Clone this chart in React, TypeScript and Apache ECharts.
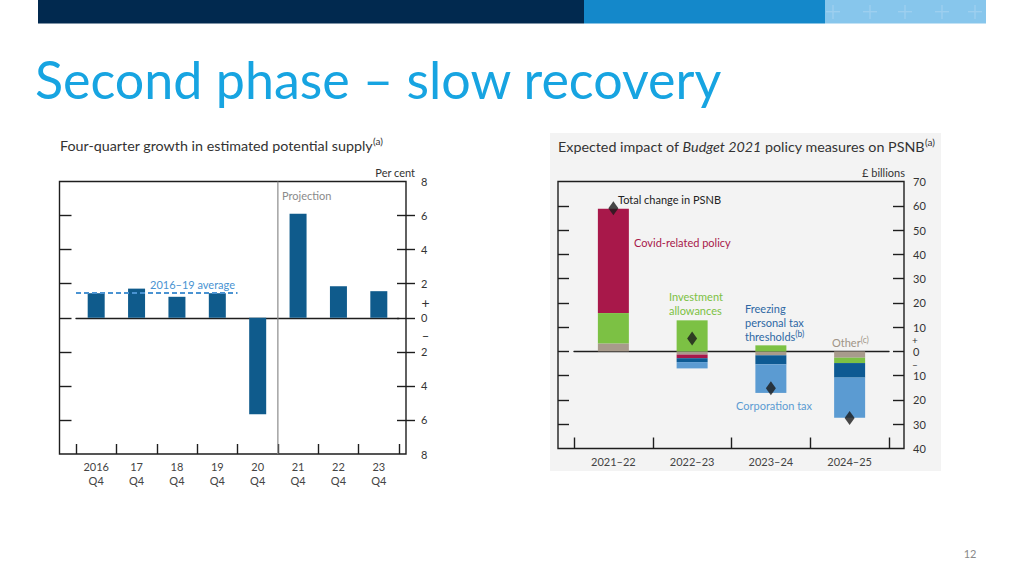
import React, { useEffect, useRef } from 'react';
import * as echarts from 'echarts';

// ---------- Left chart data ----------
const supplyCategories = ['2016\nQ4', '17\nQ4', '18\nQ4', '19\nQ4', '20\nQ4', '21\nQ4', '22\nQ4', '23\nQ4'];
const supplyGrowth = [1.44, 1.71, 1.23, 1.44, -5.66, 6.11, 1.85, 1.56];
const supplyAverage = 1.45; // 2016–19 average
const averageSpan = [0, 4]; // category boundaries covered by the average line
const projectionStart = 5; // boundary index where projection begins
const supplyMin = -8;
const supplyMax = 8;
const supplyInterval = 2;
const supplyTickValues = [-6, -4, -2, 0, 2, 4, 6];

// ---------- Right chart data ----------
const psnbCategories = ['2021–22', '2022–23', '2023–24', '2024–25'];
const otherValues = [3.3, -1.3, -1.6, -2.6];
const investmentValues = [12.5, 12.8, 2.5, -2.2];
const covidValues = [43.0, -1.5, 0, 0];
const freezingValues = [0, -1.6, -3.7, -6.0];
const corporationValues = [0, -2.6, -11.8, -16.5];
const totalValues = [59, 5.3, -15.2, -27.4];
const psnbMin = -40;
const psnbMax = 70;
const psnbInterval = 10;
const psnbTickValues = [-30, -20, -10, 0, 10, 20, 30, 40, 50, 60];

const FONT = 'Lato, "Open Sans", sans-serif';
const AXIS_TEXT = '#333333';
const FRAME = '#1e1e1e';

const C_BAR = '#0f5b8c';
const C_AVG = '#4a93d2';
const C_OTHER = '#a89b8c';
const C_INVEST = '#7cc144';
const C_COVID = '#a8184a';
const C_FREEZE = '#0d5a93';
const C_CORP = '#5b9bd2';

export default function App() {
  const ref = useRef<HTMLDivElement>(null);

  useEffect(() => {
    const chart = echarts.init(ref.current as HTMLDivElement, null, { renderer: 'svg', width: 1024, height: 576 });

    const absLabel = (v: number) => String(Math.abs(v));

    const txt = (x: number, y: number, text: string, opts: any = {}) => ({
      type: 'text',
      x,
      y,
      silent: true,
      style: {
        text,
        fontFamily: FONT,
        fontSize: 11,
        fill: '#333',
        textAlign: 'left',
        textVerticalAlign: 'middle',
        ...opts,
      },
    });

    const crosses: any[] = [];
    [833, 870, 905, 942, 975].forEach((cx) => {
      crosses.push({ type: 'rect', shape: { x: cx - 7, y: 11, width: 14, height: 1.4 }, style: { fill: '#9dcfef' }, silent: true });
      crosses.push({ type: 'rect', shape: { x: cx - 0.7, y: 5, width: 1.4, height: 14 }, style: { fill: '#9dcfef' }, silent: true });
    });

    const stackBar = (name: string, data: number[], color: string) => ({
      type: 'bar',
      name,
      stack: 'psnb',
      xAxisIndex: 4,
      yAxisIndex: 5,
      barWidth: 31,
      data,
      itemStyle: { color },
      emphasis: { disabled: true },
    });

    const tickStyle = { color: FRAME, width: 1.4 };

    const option: any = {
      animation: false,
      textStyle: { fontFamily: FONT },
      graphic: [
        // banner
        { type: 'rect', shape: { x: 38, y: 0, width: 546, height: 23.5 }, style: { fill: '#01294f' }, silent: true },
        { type: 'rect', shape: { x: 584, y: 0, width: 241, height: 23.5 }, style: { fill: '#1488ca' }, silent: true },
        { type: 'rect', shape: { x: 825, y: 0, width: 161, height: 23.5 }, style: { fill: '#87c6ec' }, silent: true },
        ...crosses,
        // main title
        {
          type: 'text', x: 35, y: 79, silent: true,
          style: { text: 'Second phase – slow recovery', fontFamily: 'Lato, sans-serif', fontSize: 52, fill: '#17a4e1', textVerticalAlign: 'middle' },
        },
        // right panel background
        { type: 'rect', z: -10, shape: { x: 550, y: 133, width: 391, height: 338 }, style: { fill: '#f3f3f3' }, silent: true },
        // left chart title
        {
          type: 'text', x: 60, y: 145, silent: true,
          style: {
            text: 'Four-quarter growth in estimated potential supply{sup|(a)}',
            fontFamily: FONT, fontSize: 14.3, fill: '#333', textVerticalAlign: 'middle', lineHeight: 18,
            rich: { sup: { fontSize: 10, verticalAlign: 'top', lineHeight: 11, fill: '#333', fontFamily: FONT } },
          },
        },
        txt(415, 172, 'Per cent', { textAlign: 'right' }),
        txt(425.5, 302, '+', { textAlign: 'center', fontSize: 14, lineHeight: 11 }),
        txt(425.5, 336, '–', { textAlign: 'center', fontSize: 13, lineHeight: 11 }),
        txt(282, 195, 'Projection', { fill: '#8a8a8a' }),
        txt(150, 284, '2016–19 average', { fill: C_AVG }),
        // right chart title
        {
          type: 'text', x: 558, y: 146, silent: true,
          style: {
            text: 'Expected impact of {it|Budget 2021} policy measures on PSNB{sup|(a)}',
            fontFamily: FONT, fontSize: 14.3, fill: '#333', textVerticalAlign: 'middle', lineHeight: 18,
            rich: {
              it: { fontStyle: 'italic', fontSize: 14.3, fill: '#333', fontFamily: FONT },
              sup: { fontSize: 10, verticalAlign: 'top', lineHeight: 11, fill: '#333', fontFamily: FONT },
            },
          },
        },
        txt(905, 172, '£ billions', { textAlign: 'right' }),
        txt(915, 340, '+', { textAlign: 'center', fontSize: 10, lineHeight: 9 }),
        txt(915, 364, '–', { textAlign: 'center', fontSize: 10, lineHeight: 9 }),
        txt(618, 199, 'Total change in PSNB', { fill: '#222' }),
        txt(634, 242, 'Covid-related policy', { fill: C_COVID }),
        txt(669, 296, 'Investment', { fill: C_INVEST }),
        txt(669, 310, 'allowances', { fill: C_INVEST }),
        txt(745, 308, 'Freezing', { fill: '#2e68a4' }),
        txt(745, 322, 'personal tax', { fill: '#2e68a4' }),
        {
          type: 'text', x: 745, y: 336, silent: true,
          style: {
            text: 'thresholds{sup|(b)}', fontFamily: FONT, fontSize: 11, fill: '#2e68a4', textVerticalAlign: 'middle', lineHeight: 14,
            rich: { sup: { fontSize: 8.5, verticalAlign: 'top', lineHeight: 9, fill: '#2e68a4', fontFamily: FONT } },
          },
        },
        {
          type: 'text', x: 832, y: 342, silent: true,
          style: {
            text: 'Other{sup|(c)}', fontFamily: FONT, fontSize: 11, fill: '#a09486', textVerticalAlign: 'middle', lineHeight: 14,
            rich: { sup: { fontSize: 8.5, verticalAlign: 'top', lineHeight: 9, fill: '#a09486', fontFamily: FONT } },
          },
        },
        txt(736, 405, 'Corporation tax', { fill: C_CORP }),
        // page number
        txt(970, 553, '12', { textAlign: 'center', fill: '#8a8a8a', fontSize: 11 }),
      ],
      grid: [
        { left: 59.5, top: 181.5, width: 346.5, height: 272.5, show: true, borderColor: FRAME, borderWidth: 1.4, backgroundColor: 'transparent' },
        { left: 76, top: 181.5, width: 323, height: 272.5 },
        { left: 558, top: 181.5, width: 346, height: 267, show: true, borderColor: FRAME, borderWidth: 1.4, backgroundColor: 'transparent' },
        { left: 574, top: 181.5, width: 315, height: 267 },
      ],
      xAxis: [
        // 0: left frame (hidden)
        { gridIndex: 0, type: 'value', min: 0, max: 1, show: false },
        // 1: left bars, zero line
        {
          gridIndex: 1, type: 'category', data: supplyCategories,
          axisLine: { show: true, onZero: true, lineStyle: tickStyle },
          axisTick: { show: false }, axisLabel: { show: false }, splitLine: { show: false },
        },
        // 2: left bottom ticks & labels
        {
          gridIndex: 1, type: 'category', data: supplyCategories, position: 'bottom',
          axisLine: { show: false, onZero: false },
          axisTick: { show: true, inside: true, length: 10, lineStyle: tickStyle },
          axisLabel: { show: true, color: '#444', fontSize: 11, lineHeight: 14, margin: 5, fontFamily: FONT },
          splitLine: { show: false },
        },
        // 3: left hidden value axis for reference lines
        { gridIndex: 1, type: 'value', min: 0, max: supplyCategories.length, show: false },
        // 4: right bars, zero line
        {
          gridIndex: 3, type: 'category', data: psnbCategories,
          axisLine: { show: true, onZero: true, lineStyle: tickStyle },
          axisTick: { show: false }, axisLabel: { show: false }, splitLine: { show: false },
        },
        // 5: right bottom ticks & labels
        {
          gridIndex: 3, type: 'category', data: psnbCategories, position: 'bottom',
          axisLine: { show: false, onZero: false },
          axisTick: { show: true, inside: true, length: 11, lineStyle: tickStyle },
          axisLabel: { show: true, color: '#444', fontSize: 11, margin: 7, fontFamily: FONT },
          splitLine: { show: false },
        },
        // 6: right frame (hidden)
        { gridIndex: 2, type: 'value', min: 0, max: 1, show: false },
      ],
      yAxis: [
        // 0: left frame, left ticks
        {
          gridIndex: 0, type: 'value', position: 'left', min: supplyMin, max: supplyMax, interval: supplyInterval,
          axisLine: { show: false }, splitLine: { show: false }, axisLabel: { show: false },
          axisTick: { show: true, inside: true, length: 12, customValues: supplyTickValues, lineStyle: tickStyle },
        },
        // 1: left frame, right outer ticks + labels
        {
          gridIndex: 0, type: 'value', position: 'right', min: supplyMin, max: supplyMax, interval: supplyInterval,
          axisLine: { show: false }, splitLine: { show: false },
          axisTick: { show: true, inside: false, length: 9, customValues: supplyTickValues, lineStyle: tickStyle },
          axisLabel: { show: true, formatter: absLabel, color: AXIS_TEXT, fontSize: 11, margin: 15, fontFamily: FONT },
        },
        // 2: left bars value axis (hidden)
        {
          gridIndex: 1, type: 'value', min: supplyMin, max: supplyMax, interval: supplyInterval,
          axisLine: { show: false }, axisTick: { show: false }, axisLabel: { show: false }, splitLine: { show: false },
        },
        // 3: right frame, left ticks
        {
          gridIndex: 2, type: 'value', position: 'left', min: psnbMin, max: psnbMax, interval: psnbInterval,
          axisLine: { show: false }, splitLine: { show: false }, axisLabel: { show: false },
          axisTick: { show: true, inside: true, length: 11, customValues: psnbTickValues, lineStyle: tickStyle },
        },
        // 4: right frame, right ticks + labels
        {
          gridIndex: 2, type: 'value', position: 'right', min: psnbMin, max: psnbMax, interval: psnbInterval,
          axisLine: { show: false }, splitLine: { show: false },
          axisTick: { show: true, inside: true, length: 11, customValues: psnbTickValues, lineStyle: tickStyle },
          axisLabel: { show: true, formatter: absLabel, color: AXIS_TEXT, fontSize: 11, margin: 9, fontFamily: FONT },
        },
        // 5: right bars value axis (hidden)
        {
          gridIndex: 3, type: 'value', min: psnbMin, max: psnbMax, interval: psnbInterval,
          axisLine: { show: false }, axisTick: { show: false }, axisLabel: { show: false }, splitLine: { show: false },
        },
        // 6: left frame, right inner ticks
        {
          gridIndex: 0, type: 'value', position: 'right', min: supplyMin, max: supplyMax, interval: supplyInterval,
          axisLine: { show: false }, splitLine: { show: false }, axisLabel: { show: false },
          axisTick: { show: true, inside: true, length: 9, customValues: supplyTickValues, lineStyle: tickStyle },
        },
      ],
      series: [
        {
          type: 'bar', name: 'Potential supply growth', xAxisIndex: 1, yAxisIndex: 2, barWidth: 17,
          data: supplyGrowth, itemStyle: { color: C_BAR }, emphasis: { disabled: true },
        },
        {
          type: 'line', name: '2016–19 average', xAxisIndex: 3, yAxisIndex: 2, symbol: 'none',
          data: [[averageSpan[0], supplyAverage], [averageSpan[1], supplyAverage]],
          lineStyle: { color: C_AVG, width: 2, type: [5, 3] }, emphasis: { disabled: true },
        },
        {
          type: 'line', name: 'Projection', xAxisIndex: 3, yAxisIndex: 2, symbol: 'none',
          data: [[projectionStart, supplyMin], [projectionStart, supplyMax]],
          lineStyle: { color: '#8c8c8c', width: 1.2 }, emphasis: { disabled: true },
        },
        stackBar('Other', otherValues, C_OTHER),
        stackBar('Investment allowances', investmentValues, C_INVEST),
        stackBar('Covid-related policy', covidValues, C_COVID),
        stackBar('Freezing personal tax thresholds', freezingValues, C_FREEZE),
        stackBar('Corporation tax', corporationValues, C_CORP),
        {
          type: 'scatter', name: 'Total change in PSNB', xAxisIndex: 4, yAxisIndex: 5,
          symbol: 'diamond', symbolSize: [10, 14], data: totalValues,
          itemStyle: { color: '#1a1a1a' }, z: 5, emphasis: { disabled: true },
        },
      ],
    };

    chart.setOption(option);
    return () => chart.dispose();
  }, []);

  return (
    <div
      ref={ref}
      style={{ position: 'fixed', left: 0, top: 0, width: 1024, height: 576, background: '#ffffff' }}
    />
  );
}
